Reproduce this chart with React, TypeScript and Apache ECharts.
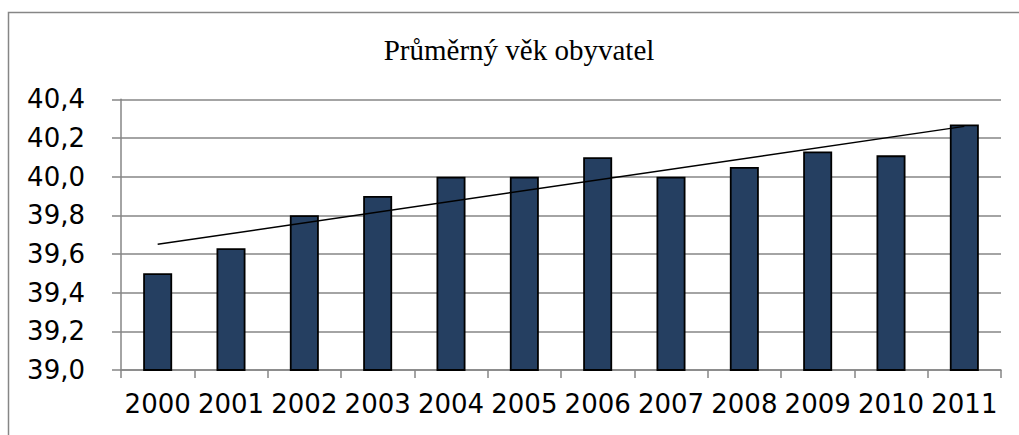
import React, { useEffect, useRef } from "react";
import * as echarts from "echarts";

const title = "Průměrný věk obyvatel";
const years = ["2000", "2001", "2002", "2003", "2004", "2005", "2006", "2007", "2008", "2009", "2010", "2011"];
const avgAge = [39.5, 39.63, 39.8, 39.9, 40.0, 40.0, 40.1, 40.0, 40.05, 40.13, 40.11, 40.27];
// trend line endpoints (first and last year)
const trendStart = 39.65;
const trendEnd = 40.26;
const yMin = 39.0;
const yMax = 40.4;
const yStep = 0.2;

export default function App() {
  const ref = useRef<HTMLDivElement>(null);
  useEffect(() => {
    if (!ref.current) return;
    const chart = echarts.init(ref.current, null, { renderer: "svg" });
    const last = years.length - 1;
    const trendData = years.map((_, i) => (i === 0 ? trendStart : i === last ? trendEnd : "-"));
    const gray = "#868686";
    chart.setOption({
      animation: false,
      backgroundColor: "#ffffff",
      graphic: [
        {
          type: "rect",
          shape: { x: 8.5, y: 12.5, width: 1200, height: 600 },
          style: { fill: "none", stroke: gray, lineWidth: 1.5 },
          silent: true,
        },
        {
          type: "text",
          x: 519,
          y: 50,
          style: {
            text: title,
            fontFamily: "'Liberation Serif', 'Times New Roman', serif",
            fontSize: 29,
            fill: "#000000",
            align: "center",
            verticalAlign: "middle",
          },
        },
      ],
      grid: { left: 121, right: 18, top: 99.3, bottom: 65, containLabel: false },
      xAxis: {
        type: "category",
        data: years,
        boundaryGap: true,
        axisLine: { show: true, lineStyle: { color: gray, width: 1.5 } },
        axisTick: { show: true, length: 8, lineStyle: { color: gray, width: 1.5 } },
        axisLabel: {
          color: "#000000",
          fontFamily: "'DejaVu Sans', Verdana, sans-serif",
          fontSize: 26,
          margin: 21,
          interval: 0,
        },
        splitLine: { show: false },
      },
      yAxis: {
        type: "value",
        min: yMin,
        max: yMax,
        interval: yStep,
        axisLine: { show: true, lineStyle: { color: gray, width: 1.5 } },
        axisTick: { show: true, length: 9, lineStyle: { color: gray, width: 1.5 } },
        axisLabel: {
          color: "#000000",
          fontFamily: "'DejaVu Sans', Verdana, sans-serif",
          fontSize: 26,
          margin: 36,
          formatter: (v: number) => v.toFixed(1).replace(".", ","),
        },
        splitLine: { show: true, lineStyle: { color: gray, width: 1.5 } },
      },
      series: [
        {
          type: "bar",
          data: avgAge,
          barWidth: 29,
          itemStyle: { color: "#253F61", borderColor: "#000000", borderWidth: 1.8 },
          silent: true,
        },
        {
          type: "line",
          data: trendData,
          connectNulls: true,
          symbol: "none",
          lineStyle: { color: "#000000", width: 1.5 },
          silent: true,
          z: 3,
        },
      ],
    });
    return () => chart.dispose();
  }, []);
  return (
    <div
      ref={ref}
      style={{ position: "absolute", left: 0, top: 0, width: 1019, height: 435 }}
    />
  );
}
